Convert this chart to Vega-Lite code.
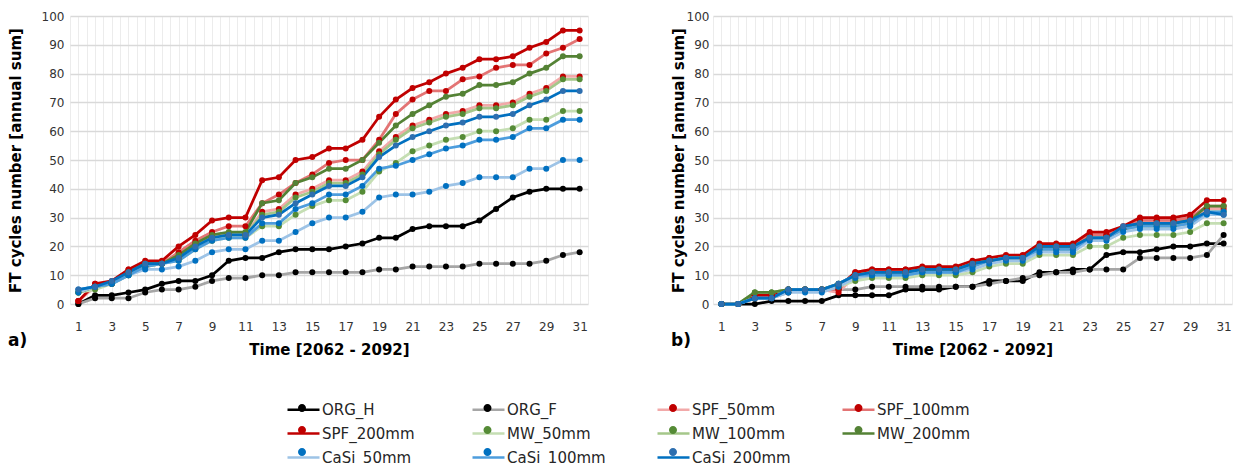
{
"$schema": "https://vega.github.io/schema/vega-lite/v6.json",
"padding": {"left": 8, "top": 10, "right": 5, "bottom": 0},
"background": "white",
"spacing": 83,
"config": {"font": "DejaVu Sans", "view": {"stroke": null}},
"datasets": {
"a": [
{"s":"ORG_H","x":1,"y":0},{"s":"ORG_H","x":2,"y":3},{"s":"ORG_H","x":3,"y":3},{"s":"ORG_H","x":4,"y":4},{"s":"ORG_H","x":5,"y":5},{"s":"ORG_H","x":6,"y":7},{"s":"ORG_H","x":7,"y":8},{"s":"ORG_H","x":8,"y":8},{"s":"ORG_H","x":9,"y":10},{"s":"ORG_H","x":10,"y":15},{"s":"ORG_H","x":11,"y":16},{"s":"ORG_H","x":12,"y":16},{"s":"ORG_H","x":13,"y":18},{"s":"ORG_H","x":14,"y":19},{"s":"ORG_H","x":15,"y":19},{"s":"ORG_H","x":16,"y":19},{"s":"ORG_H","x":17,"y":20},{"s":"ORG_H","x":18,"y":21},{"s":"ORG_H","x":19,"y":23},{"s":"ORG_H","x":20,"y":23},{"s":"ORG_H","x":21,"y":26},{"s":"ORG_H","x":22,"y":27},{"s":"ORG_H","x":23,"y":27},{"s":"ORG_H","x":24,"y":27},{"s":"ORG_H","x":25,"y":29},{"s":"ORG_H","x":26,"y":33},{"s":"ORG_H","x":27,"y":37},{"s":"ORG_H","x":28,"y":39},{"s":"ORG_H","x":29,"y":40},{"s":"ORG_H","x":30,"y":40},{"s":"ORG_H","x":31,"y":40},
{"s":"ORG_F","x":1,"y":0},{"s":"ORG_F","x":2,"y":2},{"s":"ORG_F","x":3,"y":2},{"s":"ORG_F","x":4,"y":2},{"s":"ORG_F","x":5,"y":4},{"s":"ORG_F","x":6,"y":5},{"s":"ORG_F","x":7,"y":5},{"s":"ORG_F","x":8,"y":6},{"s":"ORG_F","x":9,"y":8},{"s":"ORG_F","x":10,"y":9},{"s":"ORG_F","x":11,"y":9},{"s":"ORG_F","x":12,"y":10},{"s":"ORG_F","x":13,"y":10},{"s":"ORG_F","x":14,"y":11},{"s":"ORG_F","x":15,"y":11},{"s":"ORG_F","x":16,"y":11},{"s":"ORG_F","x":17,"y":11},{"s":"ORG_F","x":18,"y":11},{"s":"ORG_F","x":19,"y":12},{"s":"ORG_F","x":20,"y":12},{"s":"ORG_F","x":21,"y":13},{"s":"ORG_F","x":22,"y":13},{"s":"ORG_F","x":23,"y":13},{"s":"ORG_F","x":24,"y":13},{"s":"ORG_F","x":25,"y":14},{"s":"ORG_F","x":26,"y":14},{"s":"ORG_F","x":27,"y":14},{"s":"ORG_F","x":28,"y":14},{"s":"ORG_F","x":29,"y":15},{"s":"ORG_F","x":30,"y":17},{"s":"ORG_F","x":31,"y":18},
{"s":"SPF_50mm","x":1,"y":1},{"s":"SPF_50mm","x":2,"y":6},{"s":"SPF_50mm","x":3,"y":7},{"s":"SPF_50mm","x":4,"y":11},{"s":"SPF_50mm","x":5,"y":13},{"s":"SPF_50mm","x":6,"y":14},{"s":"SPF_50mm","x":7,"y":16},{"s":"SPF_50mm","x":8,"y":21},{"s":"SPF_50mm","x":9,"y":24},{"s":"SPF_50mm","x":10,"y":24},{"s":"SPF_50mm","x":11,"y":24},{"s":"SPF_50mm","x":12,"y":32},{"s":"SPF_50mm","x":13,"y":33},{"s":"SPF_50mm","x":14,"y":38},{"s":"SPF_50mm","x":15,"y":40},{"s":"SPF_50mm","x":16,"y":43},{"s":"SPF_50mm","x":17,"y":43},{"s":"SPF_50mm","x":18,"y":46},{"s":"SPF_50mm","x":19,"y":53},{"s":"SPF_50mm","x":20,"y":58},{"s":"SPF_50mm","x":21,"y":62},{"s":"SPF_50mm","x":22,"y":64},{"s":"SPF_50mm","x":23,"y":66},{"s":"SPF_50mm","x":24,"y":67},{"s":"SPF_50mm","x":25,"y":69},{"s":"SPF_50mm","x":26,"y":69},{"s":"SPF_50mm","x":27,"y":70},{"s":"SPF_50mm","x":28,"y":73},{"s":"SPF_50mm","x":29,"y":75},{"s":"SPF_50mm","x":30,"y":79},{"s":"SPF_50mm","x":31,"y":79},
{"s":"SPF_100mm","x":1,"y":1},{"s":"SPF_100mm","x":2,"y":7},{"s":"SPF_100mm","x":3,"y":7},{"s":"SPF_100mm","x":4,"y":12},{"s":"SPF_100mm","x":5,"y":14},{"s":"SPF_100mm","x":6,"y":14},{"s":"SPF_100mm","x":7,"y":18},{"s":"SPF_100mm","x":8,"y":22},{"s":"SPF_100mm","x":9,"y":25},{"s":"SPF_100mm","x":10,"y":27},{"s":"SPF_100mm","x":11,"y":27},{"s":"SPF_100mm","x":12,"y":35},{"s":"SPF_100mm","x":13,"y":38},{"s":"SPF_100mm","x":14,"y":42},{"s":"SPF_100mm","x":15,"y":45},{"s":"SPF_100mm","x":16,"y":49},{"s":"SPF_100mm","x":17,"y":50},{"s":"SPF_100mm","x":18,"y":50},{"s":"SPF_100mm","x":19,"y":57},{"s":"SPF_100mm","x":20,"y":66},{"s":"SPF_100mm","x":21,"y":71},{"s":"SPF_100mm","x":22,"y":74},{"s":"SPF_100mm","x":23,"y":74},{"s":"SPF_100mm","x":24,"y":78},{"s":"SPF_100mm","x":25,"y":79},{"s":"SPF_100mm","x":26,"y":82},{"s":"SPF_100mm","x":27,"y":83},{"s":"SPF_100mm","x":28,"y":83},{"s":"SPF_100mm","x":29,"y":87},{"s":"SPF_100mm","x":30,"y":89},{"s":"SPF_100mm","x":31,"y":92},
{"s":"SPF_200mm","x":1,"y":1},{"s":"SPF_200mm","x":2,"y":7},{"s":"SPF_200mm","x":3,"y":8},{"s":"SPF_200mm","x":4,"y":12},{"s":"SPF_200mm","x":5,"y":15},{"s":"SPF_200mm","x":6,"y":15},{"s":"SPF_200mm","x":7,"y":20},{"s":"SPF_200mm","x":8,"y":24},{"s":"SPF_200mm","x":9,"y":29},{"s":"SPF_200mm","x":10,"y":30},{"s":"SPF_200mm","x":11,"y":30},{"s":"SPF_200mm","x":12,"y":43},{"s":"SPF_200mm","x":13,"y":44},{"s":"SPF_200mm","x":14,"y":50},{"s":"SPF_200mm","x":15,"y":51},{"s":"SPF_200mm","x":16,"y":54},{"s":"SPF_200mm","x":17,"y":54},{"s":"SPF_200mm","x":18,"y":57},{"s":"SPF_200mm","x":19,"y":65},{"s":"SPF_200mm","x":20,"y":71},{"s":"SPF_200mm","x":21,"y":75},{"s":"SPF_200mm","x":22,"y":77},{"s":"SPF_200mm","x":23,"y":80},{"s":"SPF_200mm","x":24,"y":82},{"s":"SPF_200mm","x":25,"y":85},{"s":"SPF_200mm","x":26,"y":85},{"s":"SPF_200mm","x":27,"y":86},{"s":"SPF_200mm","x":28,"y":89},{"s":"SPF_200mm","x":29,"y":91},{"s":"SPF_200mm","x":30,"y":95},{"s":"SPF_200mm","x":31,"y":95},
{"s":"MW_50mm","x":1,"y":4},{"s":"MW_50mm","x":2,"y":5},{"s":"MW_50mm","x":3,"y":7},{"s":"MW_50mm","x":4,"y":10},{"s":"MW_50mm","x":5,"y":13},{"s":"MW_50mm","x":6,"y":14},{"s":"MW_50mm","x":7,"y":15},{"s":"MW_50mm","x":8,"y":19},{"s":"MW_50mm","x":9,"y":22},{"s":"MW_50mm","x":10,"y":23},{"s":"MW_50mm","x":11,"y":23},{"s":"MW_50mm","x":12,"y":27},{"s":"MW_50mm","x":13,"y":27},{"s":"MW_50mm","x":14,"y":31},{"s":"MW_50mm","x":15,"y":34},{"s":"MW_50mm","x":16,"y":36},{"s":"MW_50mm","x":17,"y":36},{"s":"MW_50mm","x":18,"y":39},{"s":"MW_50mm","x":19,"y":46},{"s":"MW_50mm","x":20,"y":49},{"s":"MW_50mm","x":21,"y":53},{"s":"MW_50mm","x":22,"y":55},{"s":"MW_50mm","x":23,"y":57},{"s":"MW_50mm","x":24,"y":58},{"s":"MW_50mm","x":25,"y":60},{"s":"MW_50mm","x":26,"y":60},{"s":"MW_50mm","x":27,"y":61},{"s":"MW_50mm","x":28,"y":64},{"s":"MW_50mm","x":29,"y":64},{"s":"MW_50mm","x":30,"y":67},{"s":"MW_50mm","x":31,"y":67},
{"s":"MW_100mm","x":1,"y":4},{"s":"MW_100mm","x":2,"y":6},{"s":"MW_100mm","x":3,"y":7},{"s":"MW_100mm","x":4,"y":10},{"s":"MW_100mm","x":5,"y":13},{"s":"MW_100mm","x":6,"y":14},{"s":"MW_100mm","x":7,"y":16},{"s":"MW_100mm","x":8,"y":20},{"s":"MW_100mm","x":9,"y":23},{"s":"MW_100mm","x":10,"y":24},{"s":"MW_100mm","x":11,"y":24},{"s":"MW_100mm","x":12,"y":31},{"s":"MW_100mm","x":13,"y":32},{"s":"MW_100mm","x":14,"y":37},{"s":"MW_100mm","x":15,"y":39},{"s":"MW_100mm","x":16,"y":42},{"s":"MW_100mm","x":17,"y":42},{"s":"MW_100mm","x":18,"y":45},{"s":"MW_100mm","x":19,"y":52},{"s":"MW_100mm","x":20,"y":57},{"s":"MW_100mm","x":21,"y":61},{"s":"MW_100mm","x":22,"y":63},{"s":"MW_100mm","x":23,"y":65},{"s":"MW_100mm","x":24,"y":66},{"s":"MW_100mm","x":25,"y":68},{"s":"MW_100mm","x":26,"y":68},{"s":"MW_100mm","x":27,"y":69},{"s":"MW_100mm","x":28,"y":72},{"s":"MW_100mm","x":29,"y":74},{"s":"MW_100mm","x":30,"y":78},{"s":"MW_100mm","x":31,"y":78},
{"s":"MW_200mm","x":1,"y":4},{"s":"MW_200mm","x":2,"y":6},{"s":"MW_200mm","x":3,"y":7},{"s":"MW_200mm","x":4,"y":11},{"s":"MW_200mm","x":5,"y":14},{"s":"MW_200mm","x":6,"y":14},{"s":"MW_200mm","x":7,"y":17},{"s":"MW_200mm","x":8,"y":21},{"s":"MW_200mm","x":9,"y":24},{"s":"MW_200mm","x":10,"y":25},{"s":"MW_200mm","x":11,"y":25},{"s":"MW_200mm","x":12,"y":35},{"s":"MW_200mm","x":13,"y":36},{"s":"MW_200mm","x":14,"y":42},{"s":"MW_200mm","x":15,"y":44},{"s":"MW_200mm","x":16,"y":47},{"s":"MW_200mm","x":17,"y":47},{"s":"MW_200mm","x":18,"y":50},{"s":"MW_200mm","x":19,"y":56},{"s":"MW_200mm","x":20,"y":62},{"s":"MW_200mm","x":21,"y":66},{"s":"MW_200mm","x":22,"y":69},{"s":"MW_200mm","x":23,"y":72},{"s":"MW_200mm","x":24,"y":73},{"s":"MW_200mm","x":25,"y":76},{"s":"MW_200mm","x":26,"y":76},{"s":"MW_200mm","x":27,"y":77},{"s":"MW_200mm","x":28,"y":80},{"s":"MW_200mm","x":29,"y":82},{"s":"MW_200mm","x":30,"y":86},{"s":"MW_200mm","x":31,"y":86},
{"s":"CaSi_50mm","x":1,"y":4},{"s":"CaSi_50mm","x":2,"y":6},{"s":"CaSi_50mm","x":3,"y":7},{"s":"CaSi_50mm","x":4,"y":10},{"s":"CaSi_50mm","x":5,"y":12},{"s":"CaSi_50mm","x":6,"y":12},{"s":"CaSi_50mm","x":7,"y":13},{"s":"CaSi_50mm","x":8,"y":15},{"s":"CaSi_50mm","x":9,"y":18},{"s":"CaSi_50mm","x":10,"y":19},{"s":"CaSi_50mm","x":11,"y":19},{"s":"CaSi_50mm","x":12,"y":22},{"s":"CaSi_50mm","x":13,"y":22},{"s":"CaSi_50mm","x":14,"y":25},{"s":"CaSi_50mm","x":15,"y":28},{"s":"CaSi_50mm","x":16,"y":30},{"s":"CaSi_50mm","x":17,"y":30},{"s":"CaSi_50mm","x":18,"y":32},{"s":"CaSi_50mm","x":19,"y":37},{"s":"CaSi_50mm","x":20,"y":38},{"s":"CaSi_50mm","x":21,"y":38},{"s":"CaSi_50mm","x":22,"y":39},{"s":"CaSi_50mm","x":23,"y":41},{"s":"CaSi_50mm","x":24,"y":42},{"s":"CaSi_50mm","x":25,"y":44},{"s":"CaSi_50mm","x":26,"y":44},{"s":"CaSi_50mm","x":27,"y":44},{"s":"CaSi_50mm","x":28,"y":47},{"s":"CaSi_50mm","x":29,"y":47},{"s":"CaSi_50mm","x":30,"y":50},{"s":"CaSi_50mm","x":31,"y":50},
{"s":"CaSi_100mm","x":1,"y":5},{"s":"CaSi_100mm","x":2,"y":6},{"s":"CaSi_100mm","x":3,"y":7},{"s":"CaSi_100mm","x":4,"y":10},{"s":"CaSi_100mm","x":5,"y":13},{"s":"CaSi_100mm","x":6,"y":14},{"s":"CaSi_100mm","x":7,"y":15},{"s":"CaSi_100mm","x":8,"y":19},{"s":"CaSi_100mm","x":9,"y":22},{"s":"CaSi_100mm","x":10,"y":23},{"s":"CaSi_100mm","x":11,"y":23},{"s":"CaSi_100mm","x":12,"y":28},{"s":"CaSi_100mm","x":13,"y":28},{"s":"CaSi_100mm","x":14,"y":33},{"s":"CaSi_100mm","x":15,"y":35},{"s":"CaSi_100mm","x":16,"y":38},{"s":"CaSi_100mm","x":17,"y":38},{"s":"CaSi_100mm","x":18,"y":41},{"s":"CaSi_100mm","x":19,"y":47},{"s":"CaSi_100mm","x":20,"y":48},{"s":"CaSi_100mm","x":21,"y":50},{"s":"CaSi_100mm","x":22,"y":52},{"s":"CaSi_100mm","x":23,"y":54},{"s":"CaSi_100mm","x":24,"y":55},{"s":"CaSi_100mm","x":25,"y":57},{"s":"CaSi_100mm","x":26,"y":57},{"s":"CaSi_100mm","x":27,"y":58},{"s":"CaSi_100mm","x":28,"y":61},{"s":"CaSi_100mm","x":29,"y":61},{"s":"CaSi_100mm","x":30,"y":64},{"s":"CaSi_100mm","x":31,"y":64},
{"s":"CaSi_200mm","x":1,"y":5},{"s":"CaSi_200mm","x":2,"y":6},{"s":"CaSi_200mm","x":3,"y":8},{"s":"CaSi_200mm","x":4,"y":11},{"s":"CaSi_200mm","x":5,"y":14},{"s":"CaSi_200mm","x":6,"y":14},{"s":"CaSi_200mm","x":7,"y":16},{"s":"CaSi_200mm","x":8,"y":20},{"s":"CaSi_200mm","x":9,"y":23},{"s":"CaSi_200mm","x":10,"y":24},{"s":"CaSi_200mm","x":11,"y":24},{"s":"CaSi_200mm","x":12,"y":30},{"s":"CaSi_200mm","x":13,"y":31},{"s":"CaSi_200mm","x":14,"y":35},{"s":"CaSi_200mm","x":15,"y":38},{"s":"CaSi_200mm","x":16,"y":41},{"s":"CaSi_200mm","x":17,"y":41},{"s":"CaSi_200mm","x":18,"y":44},{"s":"CaSi_200mm","x":19,"y":51},{"s":"CaSi_200mm","x":20,"y":55},{"s":"CaSi_200mm","x":21,"y":58},{"s":"CaSi_200mm","x":22,"y":60},{"s":"CaSi_200mm","x":23,"y":62},{"s":"CaSi_200mm","x":24,"y":63},{"s":"CaSi_200mm","x":25,"y":65},{"s":"CaSi_200mm","x":26,"y":65},{"s":"CaSi_200mm","x":27,"y":66},{"s":"CaSi_200mm","x":28,"y":69},{"s":"CaSi_200mm","x":29,"y":71},{"s":"CaSi_200mm","x":30,"y":74},{"s":"CaSi_200mm","x":31,"y":74}
],
"b": [
{"s":"ORG_H","x":1,"y":0},{"s":"ORG_H","x":2,"y":0},{"s":"ORG_H","x":3,"y":0},{"s":"ORG_H","x":4,"y":1},{"s":"ORG_H","x":5,"y":1},{"s":"ORG_H","x":6,"y":1},{"s":"ORG_H","x":7,"y":1},{"s":"ORG_H","x":8,"y":3},{"s":"ORG_H","x":9,"y":3},{"s":"ORG_H","x":10,"y":3},{"s":"ORG_H","x":11,"y":3},{"s":"ORG_H","x":12,"y":5},{"s":"ORG_H","x":13,"y":5},{"s":"ORG_H","x":14,"y":5},{"s":"ORG_H","x":15,"y":6},{"s":"ORG_H","x":16,"y":6},{"s":"ORG_H","x":17,"y":8},{"s":"ORG_H","x":18,"y":8},{"s":"ORG_H","x":19,"y":8},{"s":"ORG_H","x":20,"y":11},{"s":"ORG_H","x":21,"y":11},{"s":"ORG_H","x":22,"y":12},{"s":"ORG_H","x":23,"y":12},{"s":"ORG_H","x":24,"y":17},{"s":"ORG_H","x":25,"y":18},{"s":"ORG_H","x":26,"y":18},{"s":"ORG_H","x":27,"y":19},{"s":"ORG_H","x":28,"y":20},{"s":"ORG_H","x":29,"y":20},{"s":"ORG_H","x":30,"y":21},{"s":"ORG_H","x":31,"y":21},
{"s":"ORG_F","x":1,"y":0},{"s":"ORG_F","x":2,"y":0},{"s":"ORG_F","x":3,"y":2},{"s":"ORG_F","x":4,"y":2},{"s":"ORG_F","x":5,"y":4},{"s":"ORG_F","x":6,"y":5},{"s":"ORG_F","x":7,"y":5},{"s":"ORG_F","x":8,"y":5},{"s":"ORG_F","x":9,"y":5},{"s":"ORG_F","x":10,"y":6},{"s":"ORG_F","x":11,"y":6},{"s":"ORG_F","x":12,"y":6},{"s":"ORG_F","x":13,"y":6},{"s":"ORG_F","x":14,"y":6},{"s":"ORG_F","x":15,"y":6},{"s":"ORG_F","x":16,"y":6},{"s":"ORG_F","x":17,"y":7},{"s":"ORG_F","x":18,"y":8},{"s":"ORG_F","x":19,"y":9},{"s":"ORG_F","x":20,"y":10},{"s":"ORG_F","x":21,"y":11},{"s":"ORG_F","x":22,"y":11},{"s":"ORG_F","x":23,"y":12},{"s":"ORG_F","x":24,"y":12},{"s":"ORG_F","x":25,"y":12},{"s":"ORG_F","x":26,"y":16},{"s":"ORG_F","x":27,"y":16},{"s":"ORG_F","x":28,"y":16},{"s":"ORG_F","x":29,"y":16},{"s":"ORG_F","x":30,"y":17},{"s":"ORG_F","x":31,"y":24},
{"s":"SPF_50mm","x":1,"y":0},{"s":"SPF_50mm","x":2,"y":0},{"s":"SPF_50mm","x":3,"y":3},{"s":"SPF_50mm","x":4,"y":3},{"s":"SPF_50mm","x":5,"y":5},{"s":"SPF_50mm","x":6,"y":5},{"s":"SPF_50mm","x":7,"y":5},{"s":"SPF_50mm","x":8,"y":4},{"s":"SPF_50mm","x":9,"y":10},{"s":"SPF_50mm","x":10,"y":11},{"s":"SPF_50mm","x":11,"y":11},{"s":"SPF_50mm","x":12,"y":11},{"s":"SPF_50mm","x":13,"y":12},{"s":"SPF_50mm","x":14,"y":12},{"s":"SPF_50mm","x":15,"y":12},{"s":"SPF_50mm","x":16,"y":14},{"s":"SPF_50mm","x":17,"y":15},{"s":"SPF_50mm","x":18,"y":16},{"s":"SPF_50mm","x":19,"y":16},{"s":"SPF_50mm","x":20,"y":20},{"s":"SPF_50mm","x":21,"y":20},{"s":"SPF_50mm","x":22,"y":20},{"s":"SPF_50mm","x":23,"y":24},{"s":"SPF_50mm","x":24,"y":24},{"s":"SPF_50mm","x":25,"y":26},{"s":"SPF_50mm","x":26,"y":29},{"s":"SPF_50mm","x":27,"y":29},{"s":"SPF_50mm","x":28,"y":29},{"s":"SPF_50mm","x":29,"y":29},{"s":"SPF_50mm","x":30,"y":33},{"s":"SPF_50mm","x":31,"y":33},
{"s":"SPF_100mm","x":1,"y":0},{"s":"SPF_100mm","x":2,"y":0},{"s":"SPF_100mm","x":3,"y":3},{"s":"SPF_100mm","x":4,"y":3},{"s":"SPF_100mm","x":5,"y":5},{"s":"SPF_100mm","x":6,"y":5},{"s":"SPF_100mm","x":7,"y":5},{"s":"SPF_100mm","x":8,"y":5},{"s":"SPF_100mm","x":9,"y":11},{"s":"SPF_100mm","x":10,"y":12},{"s":"SPF_100mm","x":11,"y":12},{"s":"SPF_100mm","x":12,"y":12},{"s":"SPF_100mm","x":13,"y":12},{"s":"SPF_100mm","x":14,"y":12},{"s":"SPF_100mm","x":15,"y":12},{"s":"SPF_100mm","x":16,"y":14},{"s":"SPF_100mm","x":17,"y":16},{"s":"SPF_100mm","x":18,"y":16},{"s":"SPF_100mm","x":19,"y":16},{"s":"SPF_100mm","x":20,"y":20},{"s":"SPF_100mm","x":21,"y":20},{"s":"SPF_100mm","x":22,"y":20},{"s":"SPF_100mm","x":23,"y":24},{"s":"SPF_100mm","x":24,"y":24},{"s":"SPF_100mm","x":25,"y":26},{"s":"SPF_100mm","x":26,"y":29},{"s":"SPF_100mm","x":27,"y":29},{"s":"SPF_100mm","x":28,"y":29},{"s":"SPF_100mm","x":29,"y":30},{"s":"SPF_100mm","x":30,"y":34},{"s":"SPF_100mm","x":31,"y":34},
{"s":"SPF_200mm","x":1,"y":0},{"s":"SPF_200mm","x":2,"y":0},{"s":"SPF_200mm","x":3,"y":3},{"s":"SPF_200mm","x":4,"y":3},{"s":"SPF_200mm","x":5,"y":5},{"s":"SPF_200mm","x":6,"y":5},{"s":"SPF_200mm","x":7,"y":5},{"s":"SPF_200mm","x":8,"y":6},{"s":"SPF_200mm","x":9,"y":11},{"s":"SPF_200mm","x":10,"y":12},{"s":"SPF_200mm","x":11,"y":12},{"s":"SPF_200mm","x":12,"y":12},{"s":"SPF_200mm","x":13,"y":13},{"s":"SPF_200mm","x":14,"y":13},{"s":"SPF_200mm","x":15,"y":13},{"s":"SPF_200mm","x":16,"y":15},{"s":"SPF_200mm","x":17,"y":16},{"s":"SPF_200mm","x":18,"y":17},{"s":"SPF_200mm","x":19,"y":17},{"s":"SPF_200mm","x":20,"y":21},{"s":"SPF_200mm","x":21,"y":21},{"s":"SPF_200mm","x":22,"y":21},{"s":"SPF_200mm","x":23,"y":25},{"s":"SPF_200mm","x":24,"y":25},{"s":"SPF_200mm","x":25,"y":27},{"s":"SPF_200mm","x":26,"y":30},{"s":"SPF_200mm","x":27,"y":30},{"s":"SPF_200mm","x":28,"y":30},{"s":"SPF_200mm","x":29,"y":31},{"s":"SPF_200mm","x":30,"y":36},{"s":"SPF_200mm","x":31,"y":36},
{"s":"MW_50mm","x":1,"y":0},{"s":"MW_50mm","x":2,"y":0},{"s":"MW_50mm","x":3,"y":4},{"s":"MW_50mm","x":4,"y":4},{"s":"MW_50mm","x":5,"y":5},{"s":"MW_50mm","x":6,"y":5},{"s":"MW_50mm","x":7,"y":5},{"s":"MW_50mm","x":8,"y":6},{"s":"MW_50mm","x":9,"y":8},{"s":"MW_50mm","x":10,"y":9},{"s":"MW_50mm","x":11,"y":9},{"s":"MW_50mm","x":12,"y":9},{"s":"MW_50mm","x":13,"y":10},{"s":"MW_50mm","x":14,"y":10},{"s":"MW_50mm","x":15,"y":10},{"s":"MW_50mm","x":16,"y":11},{"s":"MW_50mm","x":17,"y":13},{"s":"MW_50mm","x":18,"y":14},{"s":"MW_50mm","x":19,"y":14},{"s":"MW_50mm","x":20,"y":17},{"s":"MW_50mm","x":21,"y":17},{"s":"MW_50mm","x":22,"y":17},{"s":"MW_50mm","x":23,"y":20},{"s":"MW_50mm","x":24,"y":20},{"s":"MW_50mm","x":25,"y":23},{"s":"MW_50mm","x":26,"y":24},{"s":"MW_50mm","x":27,"y":24},{"s":"MW_50mm","x":28,"y":24},{"s":"MW_50mm","x":29,"y":25},{"s":"MW_50mm","x":30,"y":28},{"s":"MW_50mm","x":31,"y":28},
{"s":"MW_100mm","x":1,"y":0},{"s":"MW_100mm","x":2,"y":0},{"s":"MW_100mm","x":3,"y":4},{"s":"MW_100mm","x":4,"y":4},{"s":"MW_100mm","x":5,"y":5},{"s":"MW_100mm","x":6,"y":5},{"s":"MW_100mm","x":7,"y":5},{"s":"MW_100mm","x":8,"y":7},{"s":"MW_100mm","x":9,"y":9},{"s":"MW_100mm","x":10,"y":10},{"s":"MW_100mm","x":11,"y":10},{"s":"MW_100mm","x":12,"y":10},{"s":"MW_100mm","x":13,"y":11},{"s":"MW_100mm","x":14,"y":11},{"s":"MW_100mm","x":15,"y":11},{"s":"MW_100mm","x":16,"y":13},{"s":"MW_100mm","x":17,"y":15},{"s":"MW_100mm","x":18,"y":16},{"s":"MW_100mm","x":19,"y":16},{"s":"MW_100mm","x":20,"y":19},{"s":"MW_100mm","x":21,"y":19},{"s":"MW_100mm","x":22,"y":19},{"s":"MW_100mm","x":23,"y":23},{"s":"MW_100mm","x":24,"y":23},{"s":"MW_100mm","x":25,"y":26},{"s":"MW_100mm","x":26,"y":27},{"s":"MW_100mm","x":27,"y":27},{"s":"MW_100mm","x":28,"y":27},{"s":"MW_100mm","x":29,"y":28},{"s":"MW_100mm","x":30,"y":32},{"s":"MW_100mm","x":31,"y":32},
{"s":"MW_200mm","x":1,"y":0},{"s":"MW_200mm","x":2,"y":0},{"s":"MW_200mm","x":3,"y":4},{"s":"MW_200mm","x":4,"y":4},{"s":"MW_200mm","x":5,"y":5},{"s":"MW_200mm","x":6,"y":5},{"s":"MW_200mm","x":7,"y":5},{"s":"MW_200mm","x":8,"y":7},{"s":"MW_200mm","x":9,"y":10},{"s":"MW_200mm","x":10,"y":11},{"s":"MW_200mm","x":11,"y":11},{"s":"MW_200mm","x":12,"y":11},{"s":"MW_200mm","x":13,"y":12},{"s":"MW_200mm","x":14,"y":12},{"s":"MW_200mm","x":15,"y":12},{"s":"MW_200mm","x":16,"y":14},{"s":"MW_200mm","x":17,"y":15},{"s":"MW_200mm","x":18,"y":16},{"s":"MW_200mm","x":19,"y":16},{"s":"MW_200mm","x":20,"y":20},{"s":"MW_200mm","x":21,"y":20},{"s":"MW_200mm","x":22,"y":20},{"s":"MW_200mm","x":23,"y":23},{"s":"MW_200mm","x":24,"y":23},{"s":"MW_200mm","x":25,"y":26},{"s":"MW_200mm","x":26,"y":28},{"s":"MW_200mm","x":27,"y":28},{"s":"MW_200mm","x":28,"y":28},{"s":"MW_200mm","x":29,"y":29},{"s":"MW_200mm","x":30,"y":34},{"s":"MW_200mm","x":31,"y":34},
{"s":"CaSi_50mm","x":1,"y":0},{"s":"CaSi_50mm","x":2,"y":0},{"s":"CaSi_50mm","x":3,"y":2},{"s":"CaSi_50mm","x":4,"y":2},{"s":"CaSi_50mm","x":5,"y":4},{"s":"CaSi_50mm","x":6,"y":4},{"s":"CaSi_50mm","x":7,"y":4},{"s":"CaSi_50mm","x":8,"y":6},{"s":"CaSi_50mm","x":9,"y":9},{"s":"CaSi_50mm","x":10,"y":10},{"s":"CaSi_50mm","x":11,"y":10},{"s":"CaSi_50mm","x":12,"y":10},{"s":"CaSi_50mm","x":13,"y":11},{"s":"CaSi_50mm","x":14,"y":11},{"s":"CaSi_50mm","x":15,"y":11},{"s":"CaSi_50mm","x":16,"y":12},{"s":"CaSi_50mm","x":17,"y":14},{"s":"CaSi_50mm","x":18,"y":15},{"s":"CaSi_50mm","x":19,"y":15},{"s":"CaSi_50mm","x":20,"y":18},{"s":"CaSi_50mm","x":21,"y":18},{"s":"CaSi_50mm","x":22,"y":18},{"s":"CaSi_50mm","x":23,"y":22},{"s":"CaSi_50mm","x":24,"y":22},{"s":"CaSi_50mm","x":25,"y":25},{"s":"CaSi_50mm","x":26,"y":26},{"s":"CaSi_50mm","x":27,"y":26},{"s":"CaSi_50mm","x":28,"y":26},{"s":"CaSi_50mm","x":29,"y":27},{"s":"CaSi_50mm","x":30,"y":31},{"s":"CaSi_50mm","x":31,"y":31},
{"s":"CaSi_100mm","x":1,"y":0},{"s":"CaSi_100mm","x":2,"y":0},{"s":"CaSi_100mm","x":3,"y":2},{"s":"CaSi_100mm","x":4,"y":2},{"s":"CaSi_100mm","x":5,"y":5},{"s":"CaSi_100mm","x":6,"y":5},{"s":"CaSi_100mm","x":7,"y":5},{"s":"CaSi_100mm","x":8,"y":7},{"s":"CaSi_100mm","x":9,"y":10},{"s":"CaSi_100mm","x":10,"y":10},{"s":"CaSi_100mm","x":11,"y":10},{"s":"CaSi_100mm","x":12,"y":10},{"s":"CaSi_100mm","x":13,"y":11},{"s":"CaSi_100mm","x":14,"y":11},{"s":"CaSi_100mm","x":15,"y":11},{"s":"CaSi_100mm","x":16,"y":13},{"s":"CaSi_100mm","x":17,"y":15},{"s":"CaSi_100mm","x":18,"y":16},{"s":"CaSi_100mm","x":19,"y":16},{"s":"CaSi_100mm","x":20,"y":19},{"s":"CaSi_100mm","x":21,"y":19},{"s":"CaSi_100mm","x":22,"y":19},{"s":"CaSi_100mm","x":23,"y":23},{"s":"CaSi_100mm","x":24,"y":23},{"s":"CaSi_100mm","x":25,"y":26},{"s":"CaSi_100mm","x":26,"y":27},{"s":"CaSi_100mm","x":27,"y":27},{"s":"CaSi_100mm","x":28,"y":27},{"s":"CaSi_100mm","x":29,"y":28},{"s":"CaSi_100mm","x":30,"y":32},{"s":"CaSi_100mm","x":31,"y":32},
{"s":"CaSi_200mm","x":1,"y":0},{"s":"CaSi_200mm","x":2,"y":0},{"s":"CaSi_200mm","x":3,"y":2},{"s":"CaSi_200mm","x":4,"y":2},{"s":"CaSi_200mm","x":5,"y":5},{"s":"CaSi_200mm","x":6,"y":5},{"s":"CaSi_200mm","x":7,"y":5},{"s":"CaSi_200mm","x":8,"y":7},{"s":"CaSi_200mm","x":9,"y":10},{"s":"CaSi_200mm","x":10,"y":11},{"s":"CaSi_200mm","x":11,"y":11},{"s":"CaSi_200mm","x":12,"y":11},{"s":"CaSi_200mm","x":13,"y":12},{"s":"CaSi_200mm","x":14,"y":12},{"s":"CaSi_200mm","x":15,"y":12},{"s":"CaSi_200mm","x":16,"y":14},{"s":"CaSi_200mm","x":17,"y":15},{"s":"CaSi_200mm","x":18,"y":16},{"s":"CaSi_200mm","x":19,"y":16},{"s":"CaSi_200mm","x":20,"y":20},{"s":"CaSi_200mm","x":21,"y":20},{"s":"CaSi_200mm","x":22,"y":20},{"s":"CaSi_200mm","x":23,"y":23},{"s":"CaSi_200mm","x":24,"y":23},{"s":"CaSi_200mm","x":25,"y":27},{"s":"CaSi_200mm","x":26,"y":28},{"s":"CaSi_200mm","x":27,"y":28},{"s":"CaSi_200mm","x":28,"y":28},{"s":"CaSi_200mm","x":29,"y":29},{"s":"CaSi_200mm","x":30,"y":32},{"s":"CaSi_200mm","x":31,"y":31}
]
},
"hconcat": [
{
"width": 518, "height": 288,
"data": {"name": "a"},
"title": {"text": "a)", "orient": "bottom", "anchor": "start", "frame": "bounds", "fontSize": 17, "fontWeight": "bold", "color": "#000000", "offset": -24},
"encoding": {
"x": {"field": "x", "type": "quantitative", "scale": {"domain": [0.5, 31.5], "nice": false, "zero": false},
 "axis": {"values": [0.5,1,1.5,2,2.5,3,3.5,4,4.5,5,5.5,6,6.5,7,7.5,8,8.5,9,9.5,10,10.5,11,11.5,12,12.5,13,13.5,14,14.5,15,15.5,16,16.5,17,17.5,18,18.5,19,19.5,20,20.5,21,21.5,22,22.5,23,23.5,24,24.5,25,25.5,26,26.5,27,27.5,28,28.5,29,29.5,30,30.5,31,31.5],
 "labelExpr": "datum.value % 2 == 1 ? datum.value : ''", "labelOverlap": false, "labelFlush": false, "labelBound": false,
 "grid": true, "gridColor": "#ececec", "gridWidth": 1, "ticks": false, "domain": false,
 "labelPadding": 17, "labelFontSize": 12, "labelColor": "#333333",
 "title": "Time [2062 - 2092]", "titleFontSize": 15, "titleFontWeight": "bold", "titleColor": "#000000", "titlePadding": 10}},
"y": {"field": "y", "type": "quantitative", "scale": {"domain": [0, 100], "nice": false},
 "axis": {"values": [0,10,20,30,40,50,60,70,80,90,100], "grid": true, "gridColor": "#d9d9d9", "gridWidth": 1.5, "ticks": false, "domain": false,
 "labelPadding": 6, "labelFontSize": 12, "labelColor": "#333333",
 "title": "FT cycles number [annual sum]", "titleFontSize": 15, "titleFontWeight": "bold", "titleColor": "#000000", "titlePadding": 18}}
},
"layer": [
{"mark": {"type": "line", "strokeWidth": 2.75},
 "encoding": {"stroke": {"field": "s", "type": "nominal",
  "scale": {"domain": ["ORG_H","ORG_F","SPF_50mm","SPF_100mm","SPF_200mm","MW_50mm","MW_100mm","MW_200mm","CaSi_50mm","CaSi_100mm","CaSi_200mm"],
   "range": ["#000000","#a6a6a6","#f2a9a9","#e37474","#c00000","#c5deb3","#a5c78a","#548235","#9dc3e6","#4d9ddd","#0070c0"]},
  "legend": {"title": null, "orient": "none", "direction": "horizontal", "legendX": 216, "legendY": 382, "columns": 4, "gridAlign": "all", "columnPadding": 46, "rowPadding": 4,
   "symbolType": "M-1,0L2.2,0", "symbolSize": 400, "symbolStrokeWidth": 2.5, "labelFontSize": 15, "labelOffset": 13, "labelColor": "#262626", "labelLimit": 300}}}},
{"mark": {"type": "circle", "size": 36, "opacity": 1},
 "encoding": {"fill": {"field": "s", "type": "nominal", "sort": null,
  "scale": {"range": ["#000000","#000000","#c00000","#c00000","#c00000","#558b36","#558b36","#548235","#0070c0","#0070c0","#2e6faf"]},
  "legend": {"title": null, "orient": "none", "direction": "horizontal", "legendX": 216, "legendY": 382, "columns": 4, "gridAlign": "all", "columnPadding": 149.5, "rowPadding": 4,
   "symbolType": "M-1.125,0L-1.125,0M2.325,0L2.325,0M1,0A0.4,0.4,0,1,1,0.2,0A0.4,0.4,0,1,1,1,0Z", "symbolSize": 400, "symbolStrokeWidth": 0, "labelFontSize": 15, "labelOffset": 13, "labelExpr": "''", "labelLimit": 300}}}}
]
},
{
"width": 519, "height": 288,
"data": {"name": "b"},
"title": {"text": "b)", "orient": "bottom", "anchor": "start", "frame": "bounds", "fontSize": 17, "fontWeight": "bold", "color": "#000000", "offset": -24},
"encoding": {
"x": {"field": "x", "type": "quantitative", "scale": {"domain": [0.5, 31.5], "nice": false, "zero": false},
 "axis": {"values": [0.5,1,1.5,2,2.5,3,3.5,4,4.5,5,5.5,6,6.5,7,7.5,8,8.5,9,9.5,10,10.5,11,11.5,12,12.5,13,13.5,14,14.5,15,15.5,16,16.5,17,17.5,18,18.5,19,19.5,20,20.5,21,21.5,22,22.5,23,23.5,24,24.5,25,25.5,26,26.5,27,27.5,28,28.5,29,29.5,30,30.5,31,31.5],
 "labelExpr": "datum.value % 2 == 1 ? datum.value : ''", "labelOverlap": false, "labelFlush": false, "labelBound": false,
 "grid": true, "gridColor": "#ececec", "gridWidth": 1, "ticks": false, "domain": false,
 "labelPadding": 17, "labelFontSize": 12, "labelColor": "#333333",
 "title": "Time [2062 - 2092]", "titleFontSize": 15, "titleFontWeight": "bold", "titleColor": "#000000", "titlePadding": 10}},
"y": {"field": "y", "type": "quantitative", "scale": {"domain": [0, 100], "nice": false},
 "axis": {"values": [0,10,20,30,40,50,60,70,80,90,100], "grid": true, "gridColor": "#d9d9d9", "gridWidth": 1.5, "ticks": false, "domain": false,
 "labelPadding": 4, "labelFontSize": 12, "labelColor": "#333333",
 "title": "FT cycles number [annual sum]", "titleFontSize": 15, "titleFontWeight": "bold", "titleColor": "#000000", "titlePadding": 0}}
},
"layer": [
{"mark": {"type": "line", "strokeWidth": 2.75},
 "encoding": {"stroke": {"field": "s", "type": "nominal",
  "scale": {"domain": ["ORG_H","ORG_F","SPF_50mm","SPF_100mm","SPF_200mm","MW_50mm","MW_100mm","MW_200mm","CaSi_50mm","CaSi_100mm","CaSi_200mm"],
   "range": ["#000000","#a6a6a6","#f2a9a9","#e37474","#c00000","#c5deb3","#a5c78a","#548235","#9dc3e6","#4d9ddd","#0070c0"]},
  "legend": {"title": null, "orient": "none", "direction": "horizontal", "legendX": 216, "legendY": 382, "columns": 4, "gridAlign": "all", "columnPadding": 46, "rowPadding": 4,
   "symbolType": "M-1,0L2.2,0", "symbolSize": 400, "symbolStrokeWidth": 2.5, "labelFontSize": 15, "labelOffset": 13, "labelColor": "#262626", "labelLimit": 300}}}},
{"mark": {"type": "circle", "size": 36, "opacity": 1},
 "encoding": {"fill": {"field": "s", "type": "nominal", "sort": null,
  "scale": {"range": ["#000000","#000000","#c00000","#c00000","#c00000","#558b36","#558b36","#548235","#0070c0","#0070c0","#2e6faf"]},
  "legend": {"title": null, "orient": "none", "direction": "horizontal", "legendX": 216, "legendY": 382, "columns": 4, "gridAlign": "all", "columnPadding": 149.5, "rowPadding": 4,
   "symbolType": "M-1.125,0L-1.125,0M2.325,0L2.325,0M1,0A0.4,0.4,0,1,1,0.2,0A0.4,0.4,0,1,1,1,0Z", "symbolSize": 400, "symbolStrokeWidth": 0, "labelFontSize": 15, "labelOffset": 13, "labelExpr": "''", "labelLimit": 300}}}}
]
}
]
}
